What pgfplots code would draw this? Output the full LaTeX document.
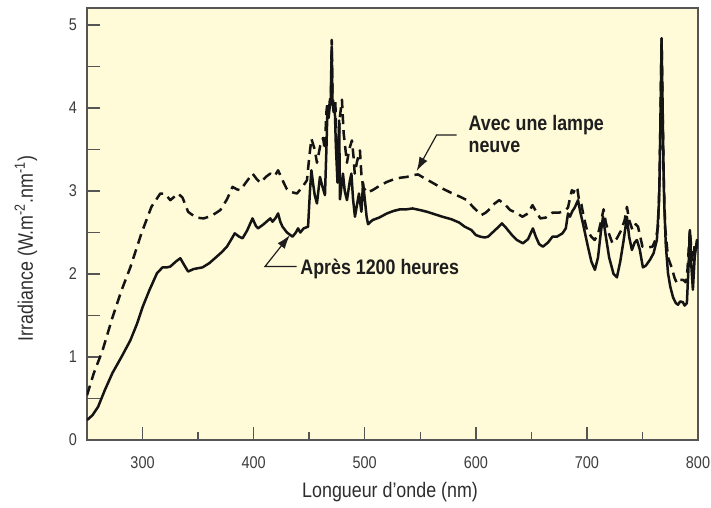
\documentclass[border=0pt]{standalone}
\usepackage{fontspec}
\setmainfont{Liberation Sans}[FakeStretch=0.85]
\usepackage{pgfplots}
\pgfplotsset{compat=1.18}
\usetikzlibrary{arrows.meta}
\definecolor{bgyellow}{RGB}{255,250,215}
\definecolor{framegray}{RGB}{85,85,85}
\definecolor{tickgray}{RGB}{60,60,60}
\definecolor{labelgray}{RGB}{45,45,45}
\definecolor{annot}{RGB}{30,30,30}
\definecolor{curve}{RGB}{20,20,20}

\pgfplotstableread{
x y
250 0.54
256 0.80
264 1.08
273 1.48
281 1.80
289 2.08
299 2.49
308 2.81
316 2.97
320 2.97
325 2.89
332 2.97
336 2.92
341 2.75
348 2.68
355 2.67
362 2.70
370 2.77
376 2.90
381 3.05
385 3.02
388 3.01
394 3.12
399 3.21
403 3.14
406 3.10
411 3.17
415 3.21
419 3.18
422 3.25
426 3.13
430 3.02
433 2.99
439 2.97
444 3.05
448 3.13
450 3.40
452 3.63
455 3.50
457 3.34
460 3.55
462.5 3.64
464 3.50
465.5 3.95
466.5 4.07
467.5 3.92
468.5 4.08
469.5 4.15
470.3 4.82
471 4.15
472 4.02
473.5 4.10
474.5 3.60
476 3.50
477.7 3.90
479.5 4.10
481 3.70
484 3.34
486 3.50
488.5 3.61
490 3.40
491 3.21
493 3.35
495.7 3.49
497 3.20
498.5 3.05
502 2.98
507 3.01
513 3.06
520 3.11
526 3.14
532 3.16
538 3.17
543 3.19
548 3.20
553 3.16
561 3.10
570 3.03
579 2.97
586 2.93
592 2.89
598 2.80
605 2.71
609 2.74
613 2.79
617 2.85
621 2.89
626 2.84
631 2.77
636 2.74
642 2.69
647 2.73
651 2.83
654 2.76
658 2.67
663 2.68
669 2.74
675 2.74
680 2.76
683 2.80
685 2.93
686.5 3.01
688 2.98
690 3.05
691.5 3.02
693 2.88
695 2.84
697 2.70
700 2.53
704 2.45
707 2.41
710 2.48
713 2.65
715 2.78
717 2.62
720 2.48
723 2.37
727 2.43
731 2.53
734 2.65
736 2.81
738 2.65
741 2.53
744 2.60
746 2.57
748 2.45
750 2.33
755 2.32
759 2.33
762 2.42
764 2.57
765.5 3.20
766.5 4.20
767.2 4.84
768 4.20
769 3.20
770.5 2.55
773 2.20
776.5 2.07
779 1.95
781 1.89
784 1.93
786.5 1.93
789 1.90
790.5 2.05
792.7 2.53
794 2.30
795.4 2.15
797 2.35
798.5 2.30
800 2.41
}\newlamp

\pgfplotstableread{
x y
250 0.24
255 0.30
260 0.40
266 0.60
273 0.81
281 1.00
289 1.20
295 1.40
300 1.60
306 1.80
313 2.01
318 2.08
322 2.08
325 2.09
330 2.15
334 2.19
337 2.12
341 2.03
346 2.06
354 2.08
360 2.13
366 2.20
371 2.26
376 2.33
380 2.42
383 2.49
387 2.45
390 2.43
394 2.52
399 2.67
402 2.58
404 2.55
409 2.60
415 2.67
417 2.63
420 2.68
422 2.73
424 2.63
426 2.57
430 2.50
435 2.45
438 2.50
440 2.55
442 2.50
445 2.55
449 2.57
450.7 3.00
452 3.25
453.4 3.10
455 2.95
457 2.85
459.7 3.17
462 3.05
464.2 2.95
465.5 3.50
466.5 4.02
467.5 3.88
468.5 4.02
469.5 4.08
470.3 4.74
471 4.08
472 3.95
473 4.02
474 3.55
475.5 3.10
477 3.85
477.7 2.90
480.4 3.21
482 3.00
484 2.89
486.7 3.13
488 3.21
489.5 2.90
491.2 2.69
494.8 2.97
497 2.75
498.5 3.10
501.7 2.69
503 2.60
507 2.65
513 2.68
520 2.73
526 2.76
532 2.78
538 2.78
543 2.79
550 2.77
556 2.75
563 2.72
570 2.69
578 2.66
585 2.62
590 2.57
596 2.53
600 2.47
604 2.45
608 2.44
611 2.45
615 2.50
619 2.55
623.5 2.61
627 2.56
632.5 2.47
637 2.41
642.4 2.37
647 2.42
651.4 2.55
654 2.45
657 2.36
660.4 2.33
665 2.38
669 2.45
673 2.45
678 2.49
681 2.55
683 2.73
684.7 2.69
687 2.76
689 2.80
692 2.89
694 2.75
696.4 2.61
700.9 2.33
704 2.15
707.2 2.05
710 2.20
712.5 2.50
714.5 2.69
716.5 2.50
720 2.20
724 2.00
727 1.96
730 2.15
733 2.40
736 2.69
738 2.45
740.5 2.29
743 2.38
745 2.41
747.5 2.30
750.4 2.08
753 2.10
756.7 2.17
760 2.25
763 2.41
765 2.90
766.3 3.90
767.2 4.84
768.2 3.90
769.5 2.90
771 2.35
773 2.01
775 1.85
777.5 1.72
780 1.65
782 1.63
784 1.67
786.4 1.66
788 1.62
790 1.65
791.5 2.10
792.7 2.53
794 2.10
795.4 1.81
797 2.20
799 2.41
800 2.35
}\oldlamp

\begin{document}
\begin{tikzpicture}
\begin{axis}[name=ax,
  scale only axis, width=305.5pt, height=216pt,
  xmin=250, xmax=800, ymin=0, ymax=5.205,
  axis background/.style={fill=bgyellow},
  axis line style={framegray, line width=0.8pt},
  xtick={300,400,...,800}, minor xtick={350,450,...,750},
  ytick={0,0.5,...,5}, yticklabels={0,,1,,2,,3,,4,,5},
  tick pos=left, tick align=inside,
  major tick length=6.5pt, minor tick length=4pt,
  tick style={framegray, line width=0.7pt},
  /pgf/number format/assume math mode=true,
  ticklabel style={font=\fontsize{8.5}{10}\selectfont, text=tickgray},
  xticklabel style={yshift=-5pt},
  yticklabel style={xshift=-1.5pt},
  xlabel={Longueur d’onde (nm)},
  xlabel style={at={(axis description cs:0.496,-0.12)}, anchor=center, font=\fontsize{10.5}{12}\selectfont, text=labelgray},
  ylabel={Irradiance (W.m\textsuperscript{-2}.nm\textsuperscript{-1})},
  ylabel style={at={(axis description cs:-0.1,0.444)}, anchor=center, font=\fontsize{10.5}{12}\selectfont, text=labelgray},
]
\addplot[curve, line width=1.25pt, line join=round, dash pattern=on 5pt off 3pt] table[x=x,y=y] {\newlamp};
\addplot[curve, line width=1.25pt, line join=round] table[x=x,y=y] {\oldlamp};

\draw[annot, line width=0.6pt, -{Latex[length=7pt,width=4.5pt]}] (axis cs:582.7,3.675) -- (axis cs:564.7,3.675) -- (axis cs:546.7,3.24);
\node[anchor=base west, inner sep=0, font=\bfseries\fontsize{10.5}{12}\selectfont, text=annot] at (axis cs:593.2,3.727) {Avec une lampe};
\node[anchor=base west, inner sep=0, font=\bfseries\fontsize{10.5}{12}\selectfont, text=annot] at (axis cs:593.2,3.47) {neuve};

\draw[annot, line width=0.6pt, -{Latex[length=7pt,width=4.5pt]}] (axis cs:438.7,2.09) -- (axis cs:410.2,2.09) -- (axis cs:432.7,2.47);
\node[anchor=base west, inner sep=0, font=\bfseries\fontsize{10.5}{12}\selectfont, text=annot] at (axis cs:441.7,1.99) {Après 1200 heures};
\end{axis}
\pgfresetboundingbox
\path ([shift={(-43.5pt,-33.5pt)}]ax.south west) rectangle ([shift={(6.5pt,4pt)}]ax.north east);
\end{tikzpicture}
\end{document}
